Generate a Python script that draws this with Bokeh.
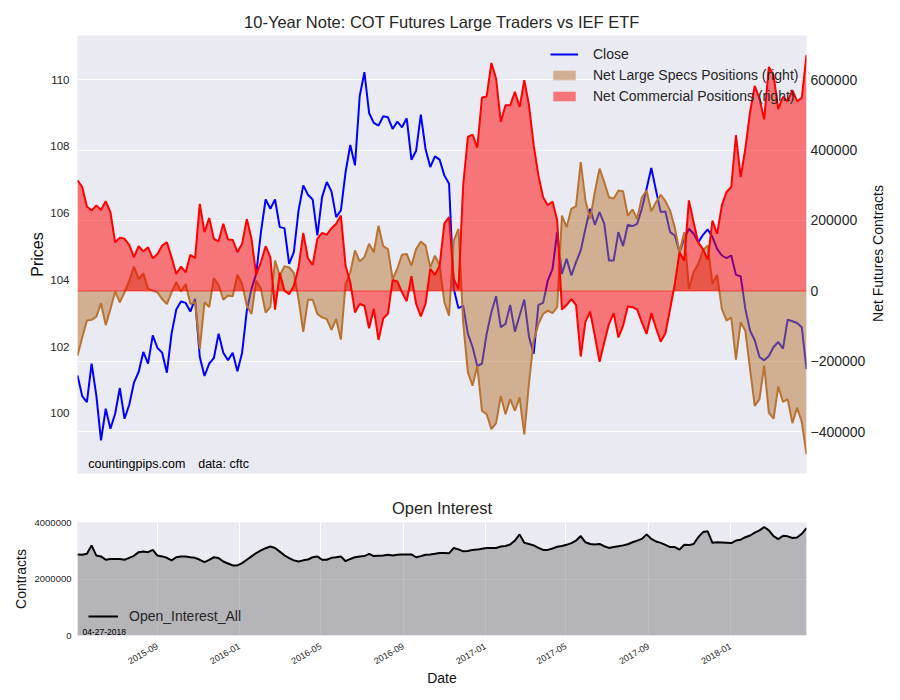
import math
import pandas as pd
from bokeh.plotting import figure
from bokeh.layouts import column, row
from bokeh.models import (Range1d, LinearAxis, FixedTicker, BasicTickFormatter, Legend, LegendItem,
                          Label, Span, MonthsTicker, DatetimeTickFormatter, ColumnDataSource)
from bokeh.embed import file_html
from bokeh.resources import INLINE

# ---------------- data (weekly COT report dates) ----------------
dates = pd.date_range("2015-05-05", "2018-04-24", freq="7D")

close = [
    101.14, 100.52, 100.34, 101.49, 100.54, 99.19, 100.14, 99.54, 99.99, 100.76, 99.84, 100.26, 100.92,
    101.24, 101.84, 101.49, 102.34, 101.96, 101.82, 101.22, 102.39, 103.11, 103.35, 103.31, 103.05, 103.43, 101.69,
    101.12, 101.49, 101.66, 102.39, 101.82, 101.59, 101.82, 101.26, 101.82, 103.08, 103.73, 104.18, 105.43,
    106.41, 106.13, 106.41, 105.58, 105.55, 104.48, 104.83, 106.08, 106.83, 106.55, 106.41, 105.33,
    106.48, 106.93, 106.65, 105.88, 106.08, 107.23, 108.04, 107.43, 109.50, 110.22, 109.00, 108.70, 108.62,
    108.90, 108.87, 108.52, 108.74, 108.57, 108.84, 107.60, 107.87, 108.95, 107.92, 107.38, 107.70,
    107.60, 107.13, 106.88, 103.73, 103.15, 103.23, 102.39, 101.99, 101.42, 101.49, 102.39, 103.03, 103.51,
    102.58, 102.68, 103.25, 102.45, 102.93, 103.41, 102.29, 101.79, 103.25, 103.31, 103.98, 104.33, 105.43,
    104.18, 104.63, 104.13, 104.53, 104.88, 105.53, 106.13, 105.65, 106.03, 105.68, 104.58, 104.58, 105.43,
    105.01, 105.65, 105.61, 105.68, 106.13, 106.73, 107.35, 106.68, 106.03, 106.05, 105.43, 105.33,
    104.83, 105.23, 105.53, 105.38, 105.13, 105.35, 105.51, 105.28, 104.93, 104.73, 104.65, 104.73, 104.15,
    104.11, 103.13, 102.48, 102.19, 101.69, 101.59, 101.72, 101.99, 102.14, 101.94, 102.81, 102.76, 102.71,
    102.58, 101.33,
]

net_large_specs = [
    -184000, -132000, -84000, -82000, -73000, -35000, -97000, -51000, -2000, -32000, -4000, 29000, 69000,
    34000, 50000, 6000, 1000, -4000, -23000, -37000, -4000, 25000, -2000, 20000, -37000, -32000, -165000,
    -32000, -46000, 36000, 17000, -25000, -13000, -15000, 46000, 20000, -42000, -65000, 29000, 6000,
    -61000, -46000, 86000, 44000, 70000, 67000, 51000, -23000, -116000, -25000, -25000, -65000,
    -75000, -80000, -110000, -80000, -138000, 20000, 53000, 115000, 84000, 96000, 134000, 110000, 185000,
    127000, 119000, 34000, 63000, 103000, 105000, 72000, 119000, 140000, 129000, 67000, 100000,
    72000, -32000, -70000, 143000, 176000, -89000, -231000, -269000, -212000, -340000, -350000, -392000,
    -375000, -298000, -350000, -307000, -340000, -302000, -407000, -260000, -141000, -94000, -65000,
    -56000, -63000, -46000,
    214000, 181000, 233000, 241000, 366000, 257000, 205000, 281000, 347000, 309000, 266000, 262000, 285000,
    283000, 214000, 231000, 205000, 266000, 285000, 226000, 252000, 273000, 255000, 228000, 180000,
    110000, 167000, 6000, 53000, 77000, 115000, 129000, 20000, 46000, -51000, -84000, -75000, -195000,
    -89000, -113000, -222000, -326000, -307000, -212000, -345000, -362000, -271000, -315000, -307000,
    -375000, -331000, -372000, -464000,
]

net_commercial = [
    314000, 295000, 240000, 228000, 243000, 230000, 255000, 224000, 138000, 151000, 148000, 131000, 96000,
    127000, 112000, 124000, 93000, 105000, 129000, 138000, 96000, 48000, 69000, 53000, 103000, 93000, 247000,
    167000, 207000, 148000, 141000, 191000, 146000, 145000, 110000, 134000, 204000, 148000, 46000, 82000,
    127000, 96000, -53000, 51000, 1000, -9000, 15000, 67000, 165000, 93000, 74000, 148000,
    165000, 160000, 178000, 191000, 214000, 72000, 25000, -61000, -37000, -42000, -106000, -51000, -139000,
    -78000, -65000, 31000, 27000, -4000, -29000, 42000, -37000, -72000, -37000, 63000, 46000,
    72000, 191000, 210000, 34000, 6000, 300000, 437000, 444000, 407000, 549000, 552000, 647000, 603000,
    480000, 527000, 527000, 565000, 522000, 598000, 527000, 413000, 328000, 266000, 243000, 254000, 200000,
    -53000, -40000, -23000, -40000, -186000, -87000, -59000, -127000, -201000, -146000, -94000, -63000,
    -132000, -99000, -44000, -46000, -53000, -89000, -122000, -63000, -105000, -144000, -120000, -51000, 20000,
    110000, 86000, 257000, 195000, 137000, 119000, 89000, 200000, 162000, 243000, 281000, 295000, 442000,
    323000, 404000, 508000, 582000, 546000, 487000, 636000, 612000, 516000, 551000, 538000, 570000,
    538000, 548000, 669000,
]

open_interest = [
    2870000, 2860000, 2890000, 3190000, 2830000, 2800000, 2680000, 2710000, 2710000, 2710000, 2680000,
    2750000, 2820000, 2950000, 2970000, 2950000, 3030000, 2830000, 2800000, 2750000, 2660000, 2770000,
    2800000, 2800000, 2770000, 2750000, 2680000,
    2600000, 2680000, 2770000, 2740000, 2620000, 2550000, 2480000, 2480000, 2560000, 2680000, 2800000,
    2920000, 3010000, 3090000, 3150000, 3100000, 2970000, 2840000, 2740000, 2660000, 2620000, 2660000,
    2690000, 2770000, 2800000,
    2680000, 2680000, 2750000, 2770000, 2800000, 2630000, 2710000, 2770000, 2800000, 2810000, 2890000,
    2810000, 2820000, 2830000, 2860000, 2830000, 2860000, 2870000, 2870000, 2870000, 2770000, 2810000,
    2860000, 2870000, 2890000, 2920000, 2920000, 2910000,
    3100000, 3050000, 2980000, 2990000, 3030000, 3040000, 3070000, 3100000, 3100000, 3100000, 3150000,
    3170000, 3220000, 3360000, 3580000, 3280000, 3240000, 3190000, 3100000, 3030000, 3030000, 3080000, 3140000,
    3170000, 3210000, 3270000, 3360000, 3520000, 3300000, 3240000, 3220000, 3240000, 3160000, 3100000,
    3130000, 3160000, 3190000, 3230000, 3300000, 3360000, 3420000, 3580000, 3420000, 3330000, 3280000,
    3210000, 3130000, 3130000,
    3040000, 3210000, 3200000, 3240000, 3480000, 3660000, 3690000, 3280000, 3300000, 3290000, 3280000,
    3270000, 3360000, 3390000, 3480000, 3540000, 3640000, 3720000, 3840000, 3720000, 3520000, 3410000,
    3530000, 3510000, 3450000, 3470000, 3600000, 3800000,
]

price_ticks = [100, 102, 104, 106, 108, 110]
contract_ticks = [-400000, -200000, 0, 200000, 400000, 600000]
oi_ticks = [0, 2000000, 4000000]

# ---------------- styling ----------------
FONT = "Liberation Sans"
BG = "#eaeaf2"
TXT = "#262626"
TAN = "#b87333"

src = ColumnDataSource(dict(date=dates, close=close, specs=net_large_specs,
                            comm=net_commercial, oi=open_interest))


def style_axis(ax, size, label_size="14px"):
    ax.axis_line_color = None
    ax.major_tick_line_color = None
    ax.minor_tick_line_color = None
    ax.major_tick_out = 0
    ax.major_tick_in = 0
    ax.minor_tick_out = 0
    ax.minor_tick_in = 0
    ax.major_label_text_font = FONT
    ax.major_label_text_font_size = size
    ax.major_label_text_color = TXT
    ax.major_label_standoff = 6
    ax.axis_label_text_font = FONT
    ax.axis_label_text_font_size = label_size
    ax.axis_label_text_font_style = "normal"
    ax.axis_label_text_color = "#111111"


# ---------------- top panel ----------------
p = figure(width=868, height=488, x_axis_type="datetime", y_axis_location="right",
           x_range=Range1d(dates[0], dates[-1]), y_range=Range1d(-518000, 725000),
           output_backend="svg", toolbar_location=None,
           min_border_left=77, min_border_right=62, min_border_top=35, min_border_bottom=15,
           background_fill_color=BG, border_fill_color="white", outline_line_color=None,
           title="10-Year Note: COT Futures Large Traders vs IEF ETF")
p.title.align = "center"
p.title.text_font = FONT
p.title.text_font_size = "16.5px"
p.title.text_font_style = "normal"
p.title.text_color = TXT
p.title.standoff = 9
p.extra_y_ranges = {"price": Range1d(98.2, 111.32)}
p.xaxis.visible = False
p.xgrid.visible = False
p.ygrid.grid_line_color = "white"
p.ygrid.grid_line_width = 1

right_ax = p.yaxis[0]
right_ax.ticker = FixedTicker(ticks=contract_ticks)
right_ax.formatter = BasicTickFormatter(use_scientific=False)
style_axis(right_ax, "14px")
right_ax.major_label_standoff = 4

left_ax = LinearAxis(y_range_name="price", ticker=FixedTicker(ticks=price_ticks), axis_label="Prices")
style_axis(left_ax, "11.5px", "16px")
left_ax.major_label_standoff = 8
left_ax.axis_label_standoff = 1
p.add_layout(left_ax, "left")

r_close = p.line("date", "close", source=src, y_range_name="price", line_color="blue", line_width=2)
r_specs = p.varea(x="date", y1=0, y2="specs", source=src, fill_color=TAN, fill_alpha=0.5)
p.line("date", "specs", source=src, line_color=TAN, line_width=2)
r_comm = p.varea(x="date", y1=0, y2="comm", source=src, fill_color="red", fill_alpha=0.5)
p.line("date", "comm", source=src, line_color="red", line_width=2)
p.add_layout(Span(location=0, dimension="width", line_color="red", line_alpha=0.6, line_width=1))

leg = Legend(items=[LegendItem(label="Close", renderers=[r_close]),
                    LegendItem(label="Net Large Specs Positions (right)", renderers=[r_specs]),
                    LegendItem(label="Net Commercial Positions (right)", renderers=[r_comm])],
             location=(473, 368), margin=0, padding=0, spacing=3,
             glyph_width=28, glyph_height=12, label_height=18, label_standoff=15,
             label_text_font=FONT, label_text_font_size="14px", label_text_color=TXT,
             background_fill_alpha=0, border_line_color=None)
p.add_layout(leg)

p.add_layout(Label(x=10.7, y=10, x_units="screen", y_units="screen", text="countingpips.com",
                   text_font=FONT, text_font_size="12.5px", text_color="black", text_baseline="middle"))
p.add_layout(Label(x=120.7, y=10, x_units="screen", y_units="screen", text="data: cftc",
                   text_font=FONT, text_font_size="12.5px", text_color="black", text_baseline="middle"))

# narrow strip holding the right-hand axis title (reads bottom-to-top)
side = figure(width=16, height=488, x_range=Range1d(0, 1), y_range=Range1d(0, 1),
              output_backend="svg", toolbar_location=None, x_axis_location=None, y_axis_location=None,
              min_border=0, outline_line_color=None, background_fill_color="white",
              border_fill_color="white")
side.grid.visible = False
side.add_layout(Label(x=9, y=220, x_units="screen", y_units="screen", text="Net Futures Contracts",
                      angle=math.pi / 2, text_align="center", text_baseline="middle",
                      text_font=FONT, text_font_size="14px", text_color="#111111"))

# ---------------- bottom panel ----------------
p2 = figure(width=884, height=202, x_axis_type="datetime", x_range=p.x_range,
            y_range=Range1d(0, 4000000), output_backend="svg", toolbar_location=None,
            min_border_left=77, min_border_right=78, min_border_top=34, min_border_bottom=55,
            background_fill_color=BG, border_fill_color="white", outline_line_color=None,
            title="Open Interest")
p2.title.align = "center"
p2.title.text_font = FONT
p2.title.text_font_size = "16.5px"
p2.title.text_font_style = "normal"
p2.title.text_color = TXT
p2.title.standoff = 11

xa = p2.xaxis[0]
xa.ticker = MonthsTicker(months=[0, 4, 8])
xa.formatter = DatetimeTickFormatter(months="%Y-%m", years="%Y-%m", days="%Y-%m")
style_axis(xa, "9px")
xa.major_label_orientation = math.pi / 6
xa.major_label_standoff = 10
xa.axis_label = "Date"
xa.axis_label_standoff = 0

ya = p2.yaxis[0]
ya.ticker = FixedTicker(ticks=oi_ticks)
ya.formatter = BasicTickFormatter(use_scientific=False)
style_axis(ya, "9.5px")
ya.axis_label = "Contracts"
ya.axis_label_standoff = 3

p2.xgrid.grid_line_color = "white"
p2.ygrid.grid_line_color = "white"

p2.varea(x="date", y1=0, y2="oi", source=src, fill_color="gray", fill_alpha=0.5)
r_oi = p2.line("date", "oi", source=src, line_color="black", line_width=2)

leg2 = Legend(items=[LegendItem(label="Open_Interest_All", renderers=[r_oi])],
              location=(11, 11), margin=0, padding=0, glyph_width=30, glyph_height=14,
              label_height=14, label_standoff=11,
              label_text_font=FONT, label_text_font_size="14px", label_text_color=TXT,
              background_fill_alpha=0, border_line_color=None)
p2.add_layout(leg2)
p2.add_layout(Label(x=5, y=1, x_units="screen", y_units="screen", text="04-27-2018",
                    text_font=FONT, text_font_size="8.5px", text_color="black", text_baseline="bottom"))

layout = column(row(p, side), p2)
open("out.html", "w").write(file_html(layout, INLINE))
